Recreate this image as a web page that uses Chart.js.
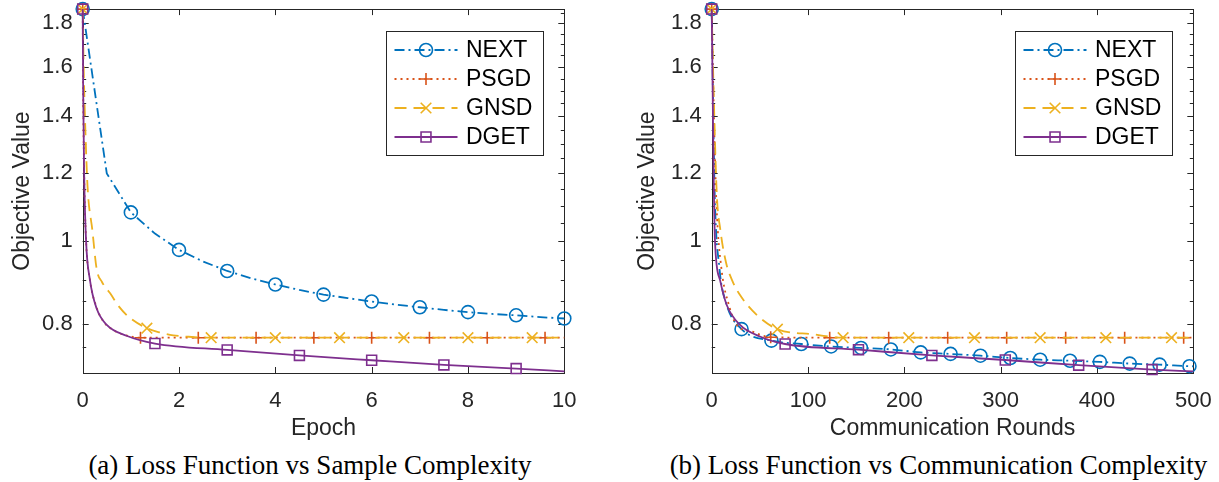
<!DOCTYPE html>
<html>
<head>
<meta charset="utf-8">
<script src="https://cdn.jsdelivr.net/npm/chart.js@4.4.1/dist/chart.umd.min.js"></script>
<style>
  html, body { margin: 0; padding: 0; background: #fff; }
  #wrap { position: relative; width: 1219px; height: 482px; overflow: hidden; background: #fff; }
  canvas { position: absolute; top: 0; }
  #left { left: 0; }
  #right { left: 600px; }
  .cap { position: absolute; top: 450px; font-family: 'Liberation Serif', 'Times New Roman', serif;
         font-size: 27px; line-height: 30px; text-align: center; color: #000; white-space: nowrap; }
</style>
</head>
<body>
<div id="wrap">
  <canvas id="left" width="600" height="442"></canvas>
  <canvas id="right" width="619" height="442"></canvas>
  <div class="cap" style="left:0;width:620px">(a) Loss Function vs Sample Complexity</div>
  <div class="cap" style="left:658px;width:561px">(b) Loss Function vs Communication Complexity</div>
</div>
<script>
// ---- data ----
const seriesNames = ['NEXT', 'PSGD', 'GNSD', 'DGET'];
const yTicks = [0.8, 1, 1.2, 1.4, 1.6, 1.8];
const yMinorTicks = [0.75, 0.85, 0.9, 0.95, 1.05, 1.1, 1.15, 1.25, 1.3, 1.35, 1.45, 1.5, 1.55, 1.65, 1.7, 1.75, 1.85];

// (a) objective vs epoch
const nextEpochX = [0, 0.5, 1, 1.5, 2, 2.5, 3, 3.5, 4, 4.5, 5, 5.5, 6, 6.5, 7, 7.5, 8, 8.5, 9, 9.5, 10];
const nextEpochY = [1.87, 1.2, 1.08, 1.02, 0.976, 0.946, 0.922, 0.904, 0.889, 0.876, 0.865, 0.857, 0.849, 0.842, 0.836, 0.830, 0.825, 0.821, 0.818, 0.814, 0.811];
const psgdEpochX = [0, 0.01, 0.03, 0.07, 0.15, 0.29, 0.42, 0.67, 0.9, 1.2, 2.4, 3.6, 4.8, 6.0, 7.2, 8.4, 9.6, 10];
const psgdEpochY = [1.87, 1.5, 1.2, 1.0, 0.9, 0.835, 0.806, 0.784, 0.775, 0.770, 0.770, 0.770, 0.770, 0.770, 0.770, 0.770, 0.770, 0.770];
const gnsdEpochX = [0, 0.02, 0.05, 0.1, 0.2, 0.29, 0.4, 0.57, 0.75, 0.95, 1.333, 1.6, 1.88, 2.2, 2.667, 4, 5.333, 6.667, 8, 9.333, 10];
const gnsdEpochY = [1.87, 1.6, 1.38, 1.16, 1.03, 0.927, 0.895, 0.868, 0.838, 0.815, 0.790, 0.781, 0.775, 0.772, 0.770, 0.770, 0.770, 0.770, 0.770, 0.770, 0.770];
const dgetEpochX = [0, 0.01, 0.03, 0.07, 0.15, 0.29, 0.5, 0.91, 1.5, 3, 4.5, 6, 7.5, 9, 10];
const dgetEpochY = [1.87, 1.5, 1.2, 1.0, 0.9, 0.833, 0.797, 0.774, 0.758, 0.745, 0.734, 0.7245, 0.7155, 0.7085, 0.703];

// (b) objective vs communication rounds
const nextRoundX = [0, 3, 8, 15, 31, 62, 93, 124, 155, 186, 217, 248, 279, 310, 341, 372, 403, 434, 465, 496, 500];
const nextRoundY = [1.87, 1.15, 0.93, 0.845, 0.788, 0.764, 0.757, 0.752, 0.749, 0.746, 0.740, 0.737, 0.7335, 0.729, 0.7256, 0.7236, 0.7213, 0.718, 0.716, 0.713, 0.7128];
const psgdRoundX = [0, 2, 5, 10, 18, 26, 41.5, 61.25, 122.5, 183.75, 245, 306.25, 367.5, 428.75, 490, 500];
const psgdRoundY = [1.87, 1.45, 1.1, 0.93, 0.84, 0.797, 0.783, 0.771, 0.770, 0.770, 0.770, 0.770, 0.770, 0.770, 0.770, 0.770];
const gnsdRoundX = [0, 2, 5.2, 9, 14.8, 21, 29.4, 46.7, 68.2, 105.5, 136.4, 204.6, 272.8, 341, 409.2, 477.4, 500];
const gnsdRoundY = [1.87, 1.5, 1.14, 1.03, 0.944, 0.9, 0.864, 0.819, 0.788, 0.777, 0.770, 0.770, 0.770, 0.770, 0.770, 0.770, 0.770];
const dgetRoundX = [0, 1, 2, 3.4, 8.6, 15.6, 29.4, 50, 76.2, 152.4, 228.6, 304.8, 381, 457.2, 500];
const dgetRoundY = [1.87, 1.5, 1.2, 1.0, 0.9, 0.841, 0.797, 0.7726, 0.757, 0.7455, 0.734, 0.725, 0.715, 0.7065, 0.703];

// ---- styles ----
const styles = {
  NEXT: { color: '#0072BD', dash: [10, 4, 2, 4], point: 'circle', r: 6.5, order: 4 },
  PSGD: { color: '#D95319', dash: [2, 4], point: 'cross', r: 6, order: 3 },
  GNSD: { color: '#EDB120', dash: [12, 7], point: 'crossRot', r: 7.5, order: 2 },
  DGET: { color: '#7E2F8E', dash: [], point: 'rect', r: 7, order: 1 }
};
const axisColor = '#262626';
const sans = '"Liberation Sans", Arial, Helvetica, sans-serif';

function markerRadius(step, r) {
  return ctx => {
    if (!ctx.raw) return r;
    const k = ctx.raw.x / step;
    return Math.abs(k - Math.round(k)) < 0.002 ? r : 0;
  };
}

function makeDataset(name, xs, ys, step, smooth) {
  const s = styles[name];
  return {
    label: name,
    data: xs.map((x, i) => ({ x: x, y: ys[i] })),
    borderColor: s.color,
    backgroundColor: s.color,
    borderWidth: 1.8,
    borderDash: s.dash,
    pointStyle: s.point,
    pointRadius: markerRadius(step, s.r),
    pointHoverRadius: 0,
    pointBorderColor: s.color,
    pointBackgroundColor: 'rgba(0,0,0,0)',
    pointBorderWidth: 1.6,
    cubicInterpolationMode: smooth ? 'monotone' : 'default',
    tension: 0,
    clip: false,
    order: s.order
  };
}

function drawMarker(ctx, style, x, y, r) {
  ctx.beginPath();
  if (style === 'circle') {
    ctx.arc(x, y, r, 0, Math.PI * 2);
  } else if (style === 'cross') {
    ctx.moveTo(x - r, y); ctx.lineTo(x + r, y);
    ctx.moveTo(x, y - r); ctx.lineTo(x, y + r);
  } else if (style === 'crossRot') {
    const d = r * Math.SQRT1_2;
    ctx.moveTo(x - d, y - d); ctx.lineTo(x + d, y + d);
    ctx.moveTo(x - d, y + d); ctx.lineTo(x + d, y - d);
  } else if (style === 'rect') {
    const d = r * Math.SQRT1_2;
    ctx.rect(x - d, y - d, 2 * d, 2 * d);
  }
  ctx.stroke();
}

// matlab style box, inward ticks, legend
const matlabAxes = {
  id: 'matlabAxes',
  beforeDatasetsDraw(chart) {
    const { ctx, chartArea: a, scales: { x, y } } = chart;
    ctx.save();
    ctx.strokeStyle = axisColor;
    ctx.lineWidth = 1;
    ctx.strokeRect(Math.round(a.left) + 0.5, Math.round(a.top) + 0.5,
      Math.round(a.right) - Math.round(a.left), Math.round(a.bottom) - Math.round(a.top));
    ctx.beginPath();
    x.ticks.forEach(t => {
      const px = Math.round(x.getPixelForValue(t.value)) + 0.5;
      ctx.moveTo(px, a.bottom); ctx.lineTo(px, a.bottom - 6);
      ctx.moveTo(px, a.top); ctx.lineTo(px, a.top + 6);
    });
    yTicks.forEach(v => {
      const py = Math.round(y.getPixelForValue(v)) + 0.5;
      ctx.moveTo(a.left, py); ctx.lineTo(a.left + 6, py);
      ctx.moveTo(a.right, py); ctx.lineTo(a.right - 6, py);
    });
    yMinorTicks.forEach(v => {
      const py = Math.round(y.getPixelForValue(v)) + 0.5;
      ctx.moveTo(a.left, py); ctx.lineTo(a.left + 3.5, py);
      ctx.moveTo(a.right, py); ctx.lineTo(a.right - 3.5, py);
    });
    ctx.stroke();
    ctx.restore();
  },
  afterDraw(chart) {
    const { ctx, chartArea: a } = chart;
    const w = 157, h = 124;
    const left = Math.round(a.right - 21.5 - w), top = Math.round(a.top + 22);
    ctx.save();
    ctx.fillStyle = '#fff';
    ctx.fillRect(left, top, w, h);
    ctx.strokeStyle = axisColor;
    ctx.lineWidth = 1;
    ctx.strokeRect(left + 0.5, top + 0.5, w, h);
    seriesNames.forEach((name, i) => {
      const s = styles[name];
      const yy = top + 19 + i * 29;
      ctx.strokeStyle = s.color;
      ctx.lineWidth = 1.8;
      ctx.setLineDash(s.dash);
      ctx.beginPath();
      ctx.moveTo(left + 8.5, yy); ctx.lineTo(left + 71.5, yy);
      ctx.stroke();
      ctx.setLineDash([]);
      ctx.lineWidth = 1.6;
      drawMarker(ctx, s.point, left + 40, yy, s.r);
      ctx.fillStyle = '#000';
      ctx.font = '23px ' + sans;
      ctx.textBaseline = 'middle';
      ctx.textAlign = 'left';
      ctx.fillText(name, left + 80, yy + 1);
    });
    ctx.restore();
  }
};

function makeChart(id, datasets, xMax, xStep, xTitle, yAxisWidth, yTitlePad, padRight) {
  return new Chart(document.getElementById(id), {
    type: 'line',
    data: { datasets: datasets },
    plugins: [matlabAxes],
    options: {
      responsive: false,
      animation: false,
      devicePixelRatio: 1,
      events: [],
      layout: { padding: { left: 0, top: 8, right: padRight, bottom: 0 } },
      plugins: { legend: { display: false }, tooltip: { enabled: false } },
      scales: {
        x: {
          type: 'linear', min: 0, max: xMax,
          grid: { display: false, drawTicks: false },
          border: { display: false },
          ticks: { stepSize: xStep, padding: 15, color: axisColor, font: { family: sans, size: 22 }, maxRotation: 0 },
          title: { display: true, text: xTitle, color: axisColor, font: { family: sans, size: 23 }, padding: { top: 0, bottom: 0 } },
          afterFit: s => { s.height = 69; s.paddingLeft = 0; s.paddingRight = 0; }
        },
        y: {
          type: 'logarithmic', min: 0.7, max: 1.87, bounds: 'data',
          grid: { display: false, drawTicks: false },
          border: { display: false },
          afterBuildTicks: s => { s.ticks = yTicks.map(v => ({ value: v })); },
          ticks: { padding: 10, color: axisColor, font: { family: sans, size: 22 }, callback: v => String(v) },
          title: { display: true, text: 'Objective Value', color: axisColor, font: { family: sans, size: 23 }, padding: { top: yTitlePad, bottom: 0 } },
          afterFit: s => { s.width = yAxisWidth; s.paddingTop = 0; s.paddingBottom = 0; }
        }
      }
    }
  });
}

makeChart('left', [
  makeDataset('NEXT', nextEpochX, nextEpochY, 1, false),
  makeDataset('PSGD', psgdEpochX, psgdEpochY, 1.2, true),
  makeDataset('GNSD', gnsdEpochX, gnsdEpochY, 4 / 3, true),
  makeDataset('DGET', dgetEpochX, dgetEpochY, 1.5, true)
], 10, 2, 'Epoch', 82.7, 8.7, 35.7);

makeChart('right', [
  makeDataset('NEXT', nextRoundX, nextRoundY, 31, true),
  makeDataset('PSGD', psgdRoundX, psgdRoundY, 61.25, true),
  makeDataset('GNSD', gnsdRoundX, gnsdRoundY, 68.2, true),
  makeDataset('DGET', dgetRoundX, dgetRoundY, 76.2, true)
], 500, 100, 'Communication Rounds', 111.7, 33.7, 25.7);
</script>
</body>
</html>
